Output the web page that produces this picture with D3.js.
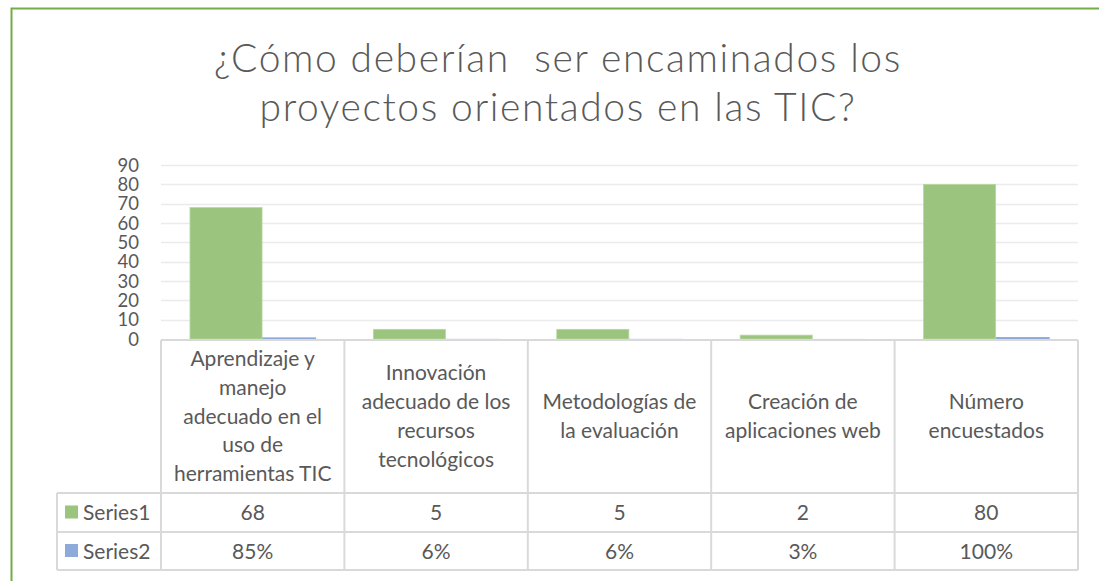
<!DOCTYPE html>
<html>
<head>
<meta charset="utf-8">
<script src="https://cdn.jsdelivr.net/npm/d3@7"></script>
<style>
  html, body { margin: 0; padding: 0; background: #fff; }
  svg { display: block; font-family: Lato, "Open Sans", sans-serif; }
</style>
</head>
<body>
<svg id="chart" width="1099" height="581"></svg>
<script>
const titleLines = ["¿Cómo deberían  ser encaminados los", "proyectos orientados en las TIC?"];
const categories = [
  "Aprendizaje y\nmanejo\nadecuado en el\nuso de\nherramientas TIC",
  "Innovación\nadecuado de los\nrecursos\ntecnológicos",
  "Metodologías de\nla evaluación",
  "Creación de\naplicaciones web",
  "Número\nencuestados"
];
const seriesNames = ["Series1", "Series2"];
const series1 = [68, 5, 5, 2, 80];
const series2 = [0.85, 0.06, 0.06, 0.03, 1.0];
const series2Labels = ["85%", "6%", "6%", "3%", "100%"];
const yTicks = [0, 10, 20, 30, 40, 50, 60, 70, 80, 90];

const colors = { Series1: "#9bc47e", Series2: "#8eaadb" };
const textColor = "#595959";
const lineColor = "#d9d9d9";

const svg = d3.select("#chart");
const width = +svg.attr("width");
const height = +svg.attr("height");

// outer green frame (runs off the right and bottom edges)
svg.append("rect")
  .attr("x", 11.5).attr("y", 8.5)
  .attr("width", width).attr("height", height)
  .attr("fill", "none")
  .attr("stroke", "#70ad47")
  .attr("stroke-width", 2);

// title
svg.append("g").selectAll("text")
  .data(titleLines)
  .enter().append("text")
  .attr("x", 558)
  .attr("y", (d, i) => 72 + i * 49)
  .attr("text-anchor", "middle")
  .attr("fill", textColor)
  .attr("xml:space", "preserve")
  .style("white-space", "pre")
  .style("font-size", "39px")
  .style("font-weight", 300)
  .style("letter-spacing", "1.6px")
  .text(d => d);

const plot = { left: 161, right: 1078, top: 165, bottom: 340 };

const x = d3.scaleBand()
  .domain(categories)
  .range([plot.left, plot.right])
  .padding(0);

const y = d3.scaleLinear()
  .domain([0, 90])
  .range([plot.bottom - 1, plot.top]);

// gridlines
svg.append("g").selectAll("line")
  .data(yTicks.filter(d => d > 0))
  .enter().append("line")
  .attr("x1", plot.left).attr("x2", plot.right)
  .attr("y1", d => Math.round(y(d)) + 0.5)
  .attr("y2", d => Math.round(y(d)) + 0.5)
  .attr("stroke", "#ebebeb")
  .attr("stroke-width", 1.5);

// y axis labels
const yAxis = svg.append("g")
  .attr("transform", `translate(${plot.left - 22}, 0)`)
  .call(d3.axisLeft(y).tickValues(yTicks).tickSize(0).tickPadding(0));
yAxis.select(".domain").remove();
yAxis.selectAll("text")
  .attr("fill", textColor)
  .attr("dy", "0.34em")
  .style("font-family", "Lato, sans-serif")
  .style("font-size", "18.5px");

// bars
const barW = x.bandwidth() * 0.393;
const step = barW * 0.75;
const offset = x.bandwidth() * 0.158;

const bars = svg.append("g");
bars.selectAll(".s2")
  .data(series2)
  .enter().append("rect")
  .attr("class", "s2")
  .attr("x", (d, i) => x(categories[i]) + offset + step)
  .attr("y", d => y(d))
  .attr("width", barW)
  .attr("height", d => y(0) - y(d))
  .attr("fill", colors.Series2);

bars.selectAll(".s1")
  .data(series1)
  .enter().append("rect")
  .attr("class", "s1")
  .attr("x", (d, i) => x(categories[i]) + offset)
  .attr("y", d => y(d))
  .attr("width", barW)
  .attr("height", d => y(0) - y(d))
  .attr("fill", colors.Series1)
  .attr("stroke", "#b7d99f")
  .attr("stroke-width", 0.8);

// data table
const table = { catTop: 340, catBottom: 493, row1: 532, row2: 570, legendLeft: 57 };
const tg = svg.append("g");

const lineStyle = sel => sel.attr("stroke", lineColor).attr("stroke-width", 2).attr("fill", "none");

// horizontal lines
tg.append("line").attr("x1", plot.left).attr("x2", plot.right)
  .attr("y1", table.catTop).attr("y2", table.catTop).call(lineStyle);
[table.catBottom, table.row1, table.row2].forEach(yy => {
  tg.append("line").attr("x1", table.legendLeft).attr("x2", plot.right)
    .attr("y1", yy).attr("y2", yy).call(lineStyle);
});
// vertical lines
categories.forEach(c => {
  tg.append("line").attr("x1", x(c)).attr("x2", x(c))
    .attr("y1", table.catTop).attr("y2", table.row2).call(lineStyle);
});
tg.append("line").attr("x1", plot.right).attr("x2", plot.right)
  .attr("y1", table.catTop).attr("y2", table.row2).call(lineStyle);
tg.append("line").attr("x1", table.legendLeft).attr("x2", table.legendLeft)
  .attr("y1", table.catBottom).attr("y2", table.row2).call(lineStyle);

// category labels
const fs = "21px";
const lineH = 28.7;
const catMid = (table.catTop + table.catBottom) / 2;
categories.forEach(c => {
  const lines = c.split("\n");
  const t = tg.append("text")
    .attr("text-anchor", "middle")
    .attr("fill", textColor)
    .style("font-size", fs);
  lines.forEach((ln, i) => {
    t.append("tspan")
      .attr("x", x(c) + x.bandwidth() / 2)
      .attr("y", catMid + 7 + (i - (lines.length - 1) / 2) * lineH)
      .text(ln);
  });
});

// value rows
const rows = [
  { name: seriesNames[0], labels: series1.map(String), top: table.catBottom, bottom: table.row1 },
  { name: seriesNames[1], labels: series2Labels, top: table.row1, bottom: table.row2 }
];
rows.forEach(r => {
  const mid = (r.top + r.bottom) / 2;
  tg.append("rect")
    .attr("x", 65).attr("y", mid - 7)
    .attr("width", 13).attr("height", 13)
    .attr("fill", colors[r.name]);
  tg.append("text")
    .attr("x", 83).attr("y", mid + 7.5)
    .attr("fill", textColor)
    .style("font-size", fs)
    .text(r.name);
  r.labels.forEach((lab, i) => {
    tg.append("text")
      .attr("x", x(categories[i]) + x.bandwidth() / 2)
      .attr("y", mid + 7.5)
      .attr("text-anchor", "middle")
      .attr("fill", textColor)
      .style("font-size", fs)
      .text(lab);
  });
});
</script>
</body>
</html>
